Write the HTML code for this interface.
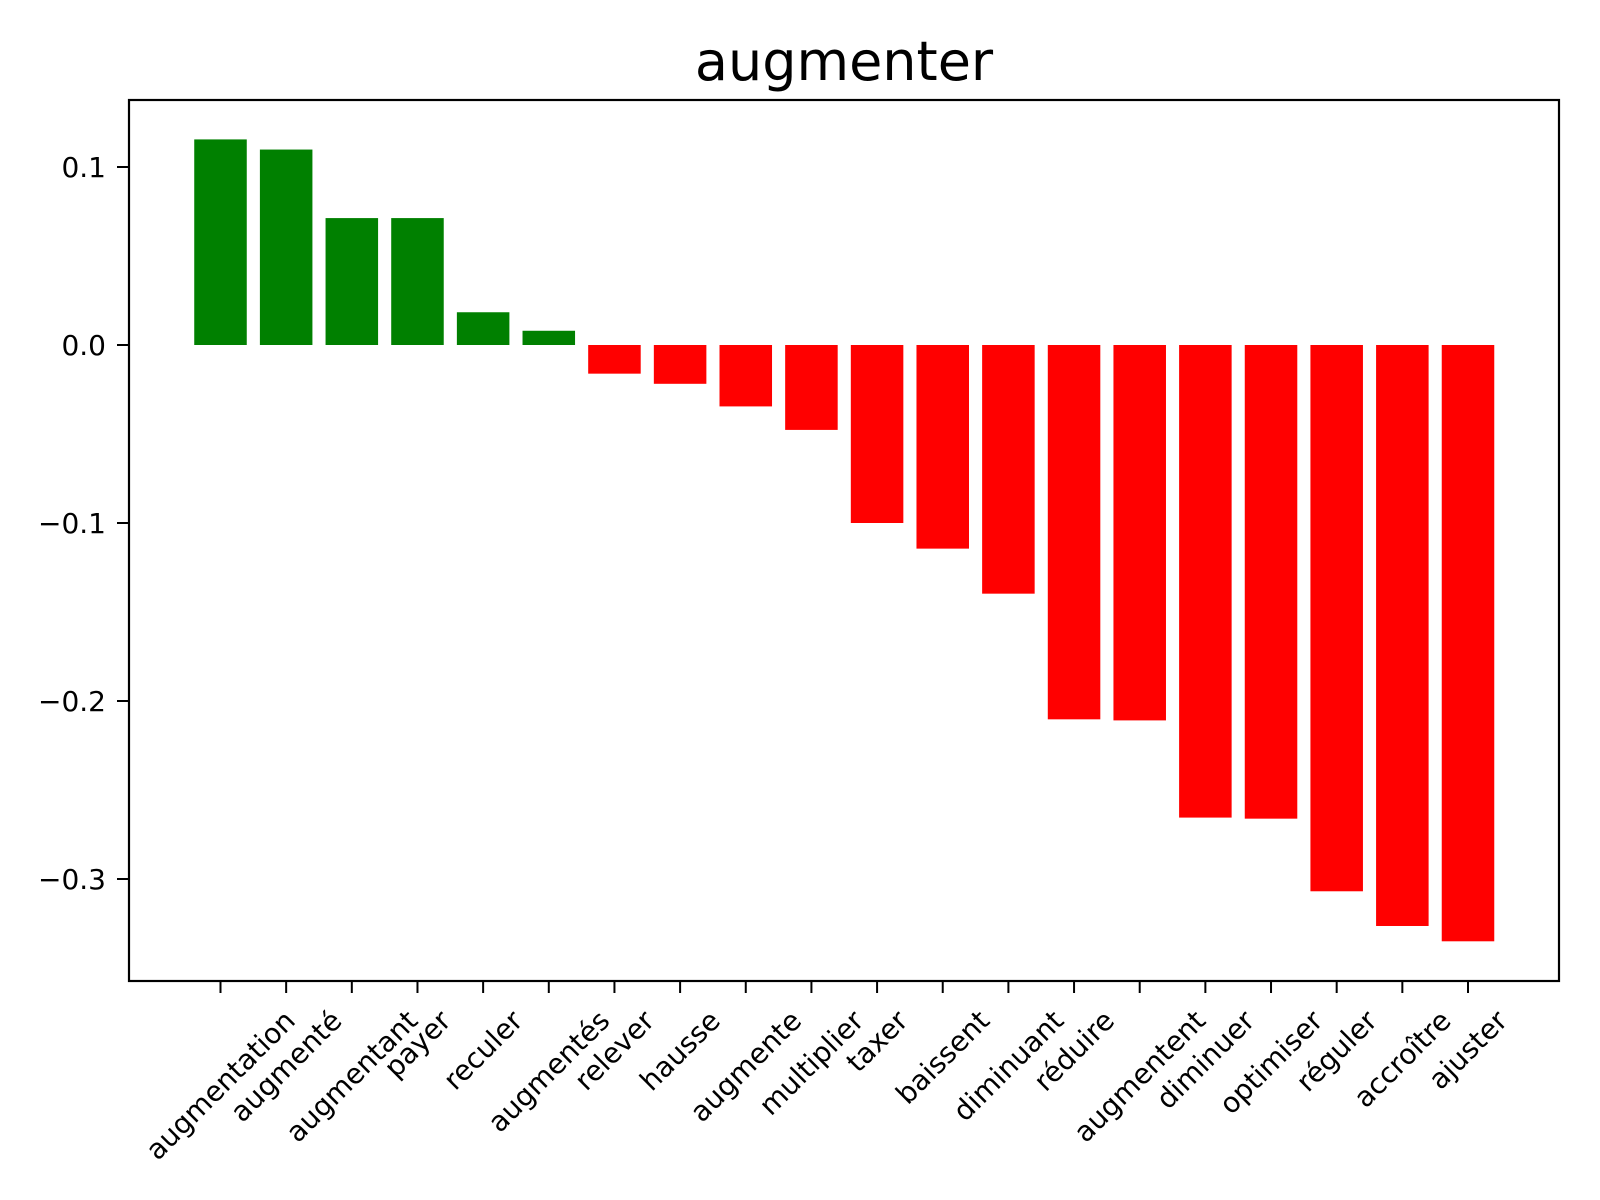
<!DOCTYPE html>
<html><head><meta charset="utf-8"><style>body{margin:0;background:#fff}svg{display:block;font-family:"DejaVu Sans","Liberation Sans",sans-serif}</style></head>
<body>
<svg id="chart" width="1600" height="1200" viewBox="0 0 1600 1200" xmlns="http://www.w3.org/2000/svg">
<rect width="1600" height="1200" fill="#fff"/>
<text x="844" y="80" font-size="54" text-anchor="middle">augmenter</text>
<g id="bars"></g><g id="xt"></g><g id="yt"></g>
<rect x="129" y="100" width="1430" height="881" fill="none" stroke="#000" stroke-width="2.2"/>
</svg>
<script>
const categories=["augmentation","augmenté","augmentant","payer","reculer","augmentés","relever","hausse","augmente","multiplier","taxer","baissent","diminuant","réduire","augmentent","diminuer","optimiser","réguler","accroître","ajuster"];
const values=[0.1155,0.1098,0.0713,0.0713,0.0184,0.008,-0.0161,-0.0218,-0.0345,-0.0477,-0.1,-0.1144,-0.1397,-0.2103,-0.2109,-0.2655,-0.2661,-0.3069,-0.3264,-0.335];
const yTicks=[0.1,0.0,-0.1,-0.2,-0.3];
const yTickLabels=["0.1","0.0","−0.1","−0.2","−0.3"];
const NS="http://www.w3.org/2000/svg";
const y=v=>345-v*1780;
const step=(1468-220.5)/19;
const x=i=>220.5+i*step;
const bw=step*0.8;
const bars=document.getElementById('bars'),xt=document.getElementById('xt'),yt=document.getElementById('yt');
function mk(t,a,p){const e=document.createElementNS(NS,t);for(const k in a)e.setAttribute(k,a[k]);p.appendChild(e);return e;}
values.forEach((v,i)=>{
 const r=mk('rect',{x:x(i)-bw/2,y:Math.min(y(v),y(0)),width:bw,height:Math.abs(y(v)-y(0)),fill:v>=0?'#008000':'#ff0000'},bars);
 
 
 const tk=mk('line',{x1:x(i),x2:x(i),y1:981,y2:993,stroke:'#000','stroke-width':2},xt);
 
 
 const t=mk('text',{x:0,y:0,'font-size':28,'text-anchor':'middle','dominant-baseline':'central'},xt);
 t.textContent=categories[i];
 
 
 const w=t.getComputedTextLength(), h=33;
 const cy=1004+(w+h)*0.7071/2;
 t.setAttribute('transform',`translate(${x(i)},${cy}) rotate(-45)`);
});
yTicks.forEach((v,i)=>{
 const tk=mk('line',{x1:117,x2:129,y1:y(v),y2:y(v),stroke:'#000','stroke-width':2},yt);
 
 
 const t=mk('text',{x:106,y:y(v)+10,'font-size':28,'text-anchor':'end'},yt);
 t.textContent=yTickLabels[i];
 
 
});
</script>
</body></html>
